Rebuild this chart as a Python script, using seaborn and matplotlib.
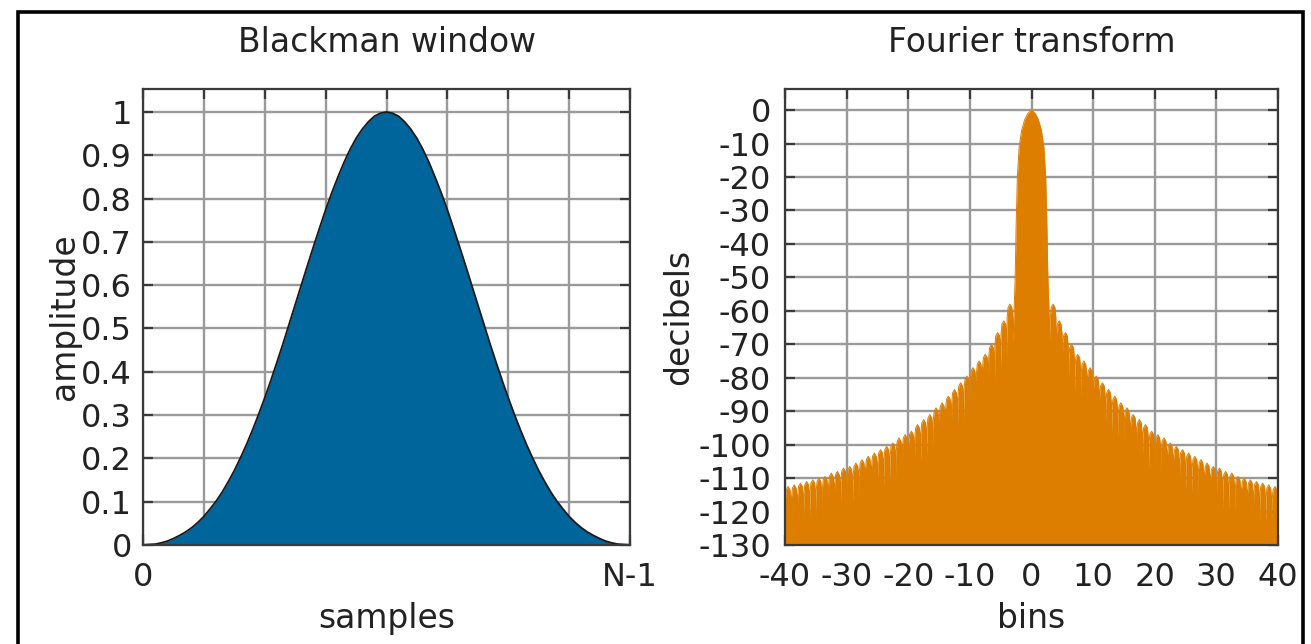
import numpy as np
import pandas as pd
import seaborn as sns
import matplotlib
matplotlib.use("Agg")
import matplotlib.pyplot as plt
from matplotlib.patches import Rectangle

# ---------------- data ----------------
# Blackman window, amplitude at sample positions 0 .. N-1 (normalised 0..1)
sample_pos = [k / 80 for k in range(81)]
window_amp = [0.000, 0.001, 0.002, 0.005, 0.009, 0.015, 0.022, 0.030, 0.040, 0.052,
              0.066, 0.083, 0.101, 0.122, 0.146, 0.172, 0.201, 0.232, 0.266, 0.302,
              0.340, 0.380, 0.422, 0.465, 0.510, 0.555, 0.600, 0.645, 0.689, 0.732,
              0.774, 0.813, 0.849, 0.883, 0.913, 0.939, 0.960, 0.977, 0.990, 0.997,
              1.000,
              0.997, 0.990, 0.977, 0.960, 0.939, 0.913, 0.883, 0.849, 0.813, 0.774,
              0.732, 0.689, 0.645, 0.600, 0.555, 0.510, 0.465, 0.422, 0.380, 0.340,
              0.302, 0.266, 0.232, 0.201, 0.172, 0.146, 0.122, 0.101, 0.083, 0.066,
              0.052, 0.040, 0.030, 0.022, 0.015, 0.009, 0.005, 0.002, 0.001, 0.000]
left_xticks = [k / 8 for k in range(9)]
left_xticklabels = ["0", "", "", "", "", "", "", "", "N-1"]
left_yticks = [0, 0.1, 0.2, 0.3, 0.4, 0.5, 0.6, 0.7, 0.8, 0.9, 1]
left_yticklabels = ["0", "0.1", "0.2", "0.3", "0.4", "0.5", "0.6", "0.7", "0.8", "0.9", "1"]

# Fourier transform (dB): main lobe and per-bin side-lobe peak levels
mainlobe_bins = [-3.0, -2.8, -2.65, -2.5, -2.3, -2.0, -1.6, -1.1, -0.6, 0.0,
                 0.6, 1.1, 1.6, 2.0, 2.3, 2.5, 2.65, 2.8, 3.0]
mainlobe_db = [-70, -58, -50, -35, -20, -11, -6, -2.8, -1.0, 0.0,
               -1.0, -2.8, -6, -11, -20, -35, -50, -58, -70]
sidelobe_start_bins = list(range(3, 40))          # lobe spans [k, k+1]
sidelobe_peak_db = [-58, -63, -66.5, -70, -73, -75, -77, -79.5, -81.5, -83.5,
                    -85.5, -87.5, -89, -91, -92.5, -94, -96, -97, -98, -99.5,
                    -100.5, -101.5, -102.5, -103.5, -104.5, -105.5, -106.5, -107, -108, -108.5,
                    -109.5, -110, -110.5, -111, -111.5, -112, -112.5]
null_depth_db = 11
right_xticks = [-40, -30, -20, -10, 0, 10, 20, 30, 40]
right_yticks = [0, -10, -20, -30, -40, -50, -60, -70, -80, -90, -100, -110, -120, -130]

BLUE = "#00659B"
ORANGE = "#DE7E00"
GRID = "#9a9a9a"
TEXT = "#222222"

# ---------------- style ----------------
sns.set_theme(style="whitegrid")
plt.rcParams["font.family"] = ["DejaVu Sans"]
plt.rcParams.update({
    "axes.edgecolor": "#3a3a3a",
    "axes.linewidth": 1.6,
    "text.color": TEXT,
    "axes.labelcolor": TEXT,
    "xtick.color": "#3a3a3a",
    "ytick.color": "#3a3a3a",
    "xtick.labelcolor": TEXT,
    "ytick.labelcolor": TEXT,
})
FS = 23
FS_LAB = 23.7

W, H = 1311, 644
fig = plt.figure(figsize=(W / 100, H / 100), dpi=100)
fig.patch.set_facecolor("white")

def fx(px):
    return px / W

def fy(py):
    return 1 - py / H

axL = fig.add_axes([fx(143), fy(545), fx(630) - fx(143), fy(89) - fy(545)])
axR = fig.add_axes([fx(785), fy(545), fx(1278) - fx(785), fy(89) - fy(545)])

def style_axes(ax):
    ax.set_axisbelow(True)
    ax.grid(True, color=GRID, lw=1.7)
    ax.tick_params(axis="both", which="major", direction="in", length=7, width=1.6,
                   top=True, right=True, bottom=True, left=True, labelsize=FS, pad=8)
    for s in ax.spines.values():
        s.set_visible(True)
        s.set_color("#3a3a3a")
        s.set_linewidth(1.6)
        s.set_zorder(5)
    ax.set_facecolor("white")

# ---------------- left: Blackman window ----------------
style_axes(axL)
axL.fill_between(sample_pos, window_amp, 0, color=BLUE, lw=0, zorder=2)
sns.lineplot(x=sample_pos, y=window_amp, ax=axL, color="#1a1a1a", lw=1.3,
             estimator=None, sort=False, zorder=3)
axL.set_xlim(0, 1)
axL.set_ylim(0, 1.053)
axL.set_xticks(left_xticks)
axL.set_xticklabels(left_xticklabels)
axL.set_yticks(left_yticks)
axL.set_yticklabels(left_yticklabels)
axL.tick_params(axis="x", pad=12)
axL.set_title("Blackman window", fontsize=FS_LAB, pad=27, color=TEXT)
axL.set_xlabel("samples", fontsize=FS_LAB, labelpad=7)
axL.set_ylabel("amplitude", fontsize=FS_LAB, labelpad=0)

# ---------------- right: Fourier transform ----------------
style_axes(axR)
# build the positive-side side-lobe comb from the per-lobe peak levels
offs = [0.0, 0.05, 0.2, 0.5, 0.8, 0.95]
drops = [-null_depth_db, -4, -1, 0, -1, -4]
pos_x, pos_y = [], []
for k, pk in zip(sidelobe_start_bins, sidelobe_peak_db):
    for o, d in zip(offs, drops):
        pos_x.append(k + o)
        pos_y.append(pk + d)
pos_x.append(40.0)
pos_y.append(sidelobe_peak_db[-1] - null_depth_db)

neg_x = [-v for v in pos_x[::-1]]
neg_y = pos_y[::-1]
spec = pd.DataFrame({
    "bins": neg_x + mainlobe_bins + pos_x,
    "db": neg_y + mainlobe_db + pos_y,
})
axR.fill_between(spec["bins"], spec["db"], -140, color=ORANGE, lw=0, zorder=2)
sns.lineplot(data=spec, x="bins", y="db", ax=axR, color=ORANGE, lw=0.7,
             estimator=None, sort=False, zorder=3)
axR.set_xlim(-40, 40)
axR.set_ylim(-130, 6.3)
axR.set_xticks(right_xticks)
axR.set_xticklabels([str(v) for v in right_xticks])
axR.set_yticks(right_yticks)
axR.set_yticklabels([str(v) for v in right_yticks])
axR.tick_params(axis="x", pad=12)
axR.tick_params(axis="y", pad=10)
axR.set_title("Fourier transform", fontsize=FS_LAB, pad=27, color=TEXT)
axR.set_xlabel("bins", fontsize=FS_LAB, labelpad=7)
axR.set_ylabel("decibels", fontsize=FS_LAB, labelpad=2)

# outer frame
fig.add_artist(Rectangle((fx(18), -0.05), fx(1303) - fx(18), fy(12) + 0.05,
                         transform=fig.transFigure, fill=False, lw=2.6,
                         ec="black", zorder=10))

fig.savefig("out.png", dpi=100, facecolor="white")
